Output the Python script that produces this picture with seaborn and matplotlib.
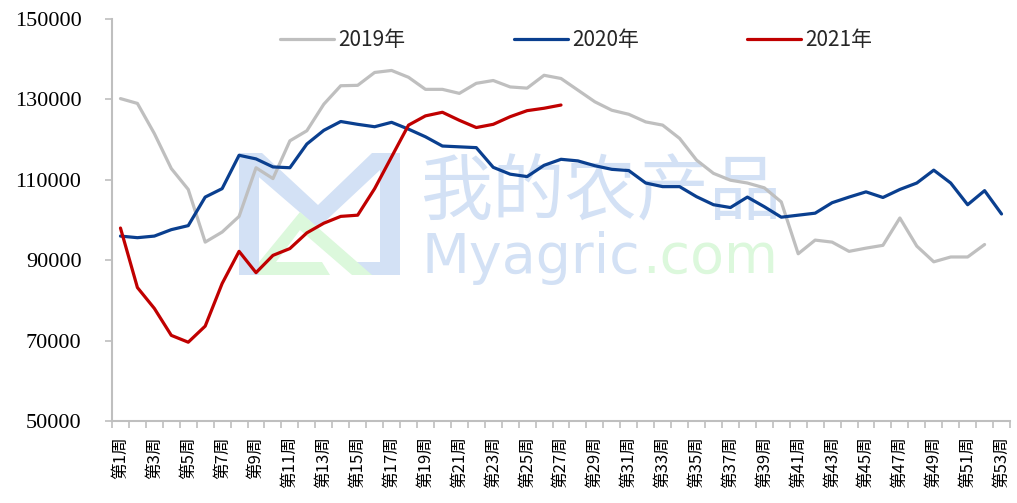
import numpy as np
import pandas as pd
import matplotlib
matplotlib.use("Agg")
import matplotlib.pyplot as plt
from matplotlib.patches import Polygon
import seaborn as sns

sns.set_theme(style="white")
plt.rcParams['font.family'] = ['Noto Sans CJK SC', 'DejaVu Sans']

# weekly values, 第1周 .. 第53周
weeks = [f"第{i}周" for i in range(1, 54)]

y2019 = [130200, 129000, 121500, 112800, 107600, 94500, 97000, 100900, 113000, 110300,
         119700, 122200, 128800, 133400, 133500, 136700, 137200, 135500, 132500, 132500,
         131500, 134000, 134700, 133100, 132800, 136000, 135200, 132300, 129400, 127300,
         126300, 124400, 123600, 120300, 114900, 111600, 109900, 109200, 108000, 104500,
         91600, 95000, 94500, 92200, 93000, 93700, 100500, 93500, 89600, 90800,
         90800, 93900]
y2020 = [96000, 95600, 96000, 97600, 98600, 105700, 107800, 116100, 115200, 113200,
         113000, 118900, 122300, 124500, 123800, 123200, 124300, 122600, 120700, 118400,
         118200, 118000, 113100, 111400, 110800, 113600, 115100, 114700, 113500, 112600,
         112300, 109200, 108300, 108300, 105800, 103800, 103100, 105700, 103300, 100700,
         101200, 101700, 104300, 105700, 107000, 105600, 107600, 109200, 112400, 109200,
         103800, 107300, 101500]
y2021 = [98000, 83200, 78000, 71300, 69600, 73600, 84200, 92200, 86900, 91200,
         92900, 96800, 99200, 100900, 101200, 107800, 115700, 123600, 125900, 126800,
         124800, 123000, 123800, 125700, 127200, 127800, 128600]

series = {"2019年": y2019, "2020年": y2020, "2021年": y2021}
colors = {"2019年": "#BFBFBF", "2020年": "#0A3F8F", "2021年": "#C00000"}

rows = []
for name, vals in series.items():
    for i, v in enumerate(vals):
        rows.append({"pos": i, "value": v, "year": name})
df = pd.DataFrame(rows)

W, H = 1017, 503
fig = plt.figure(figsize=(W / 100, H / 100), dpi=100)
ax = fig.add_axes([112 / W, 82 / H, 898 / W, 402 / H])


def fpx(pts):
    # pixel (from top-left) -> figure fraction, for the watermark only
    return [(x / W, 1 - y / H) for x, y in pts]


# faint watermark: logo + text, kept behind the axes
wm_blue = "#D3E1F5"
wm_green = "#DCF8DC"
logo_blue = [
    [(239, 153), (259, 153), (259, 275), (239, 275)],
    [(239, 153), (262, 153), (318, 205), (318, 228), (239, 160)],
    [(318, 205), (372, 153), (380, 153), (380, 170), (318, 228)],
    [(372, 153), (400, 153), (400, 168), (372, 168)],
    [(380, 153), (400, 153), (400, 275), (380, 275)],
    [(355, 262), (400, 262), (400, 275), (355, 275)],
]
logo_green = [
    [(259, 262), (300, 212), (372, 275), (352, 275), (300, 230), (276, 262)],
    [(259, 262), (322, 262), (330, 275), (259, 275)],
]
for poly in logo_blue:
    fig.patches.append(Polygon(fpx(poly), closed=True, transform=fig.transFigure,
                               facecolor=wm_blue, edgecolor="none", zorder=-1))
for poly in logo_green:
    fig.patches.append(Polygon(fpx(poly), closed=True, transform=fig.transFigure,
                               facecolor=wm_green, edgecolor="none", zorder=-1))

ax.set_facecolor("none")
ax.text(0.343, 0.565, "我的农产品", transform=ax.transAxes, fontsize=52,
        color=wm_blue, va="center", ha="left", zorder=0)
ax.text(0.345, 0.405, "Myagric", transform=ax.transAxes, fontsize=40,
        color=wm_blue, va="center", ha="left", zorder=0, family="DejaVu Sans")
ax.text(0.590, 0.405, ".com", transform=ax.transAxes, fontsize=40,
        color=wm_green, va="center", ha="left", zorder=0, family="DejaVu Sans")

sns.lineplot(data=df, x="pos", y="value", hue="year", palette=colors,
             linewidth=2.3, ax=ax, legend=False, zorder=3)

ax.set_xlim(-0.5, len(weeks) - 0.5)
ax.set_ylim(50000, 150000)
ax.set_yticks(np.arange(50000, 150001, 20000))
ax.set_yticklabels([str(v) for v in range(50000, 150001, 20000)],
                   family="Liberation Serif", fontsize=16, color="#000000")

ax.set_xticks(range(0, len(weeks), 2))
ax.set_xticklabels(weeks[::2], rotation=90, fontsize=12, color="#000000")
ax.set_xticks(np.arange(-0.5, len(weeks), 1), minor=True)
ax.tick_params(axis="x", which="major", length=0, pad=11)
ax.tick_params(axis="x", which="minor", length=5, width=1.2, color="#BFBFBF",
               direction="out", bottom=True)
ax.tick_params(axis="y", length=5, width=1.2, color="#BFBFBF",
               direction="out", left=True, pad=17)

ax.set_xlabel("")
ax.set_ylabel("")
for side in ["top", "right"]:
    ax.spines[side].set_visible(False)
for side in ["left", "bottom"]:
    ax.spines[side].set_color("#BFBFBF")
    ax.spines[side].set_linewidth(1.5)

handles = [plt.Line2D([], [], color=colors[k], linewidth=2.3) for k in series]
ax.legend(handles, list(series), loc="center", bbox_to_anchor=(0.517, 0.948),
          ncol=3, frameon=False, fontsize=15, handlelength=2.6,
          handletextpad=0.2, columnspacing=5.2)

fig.savefig("out.png", dpi=100)
